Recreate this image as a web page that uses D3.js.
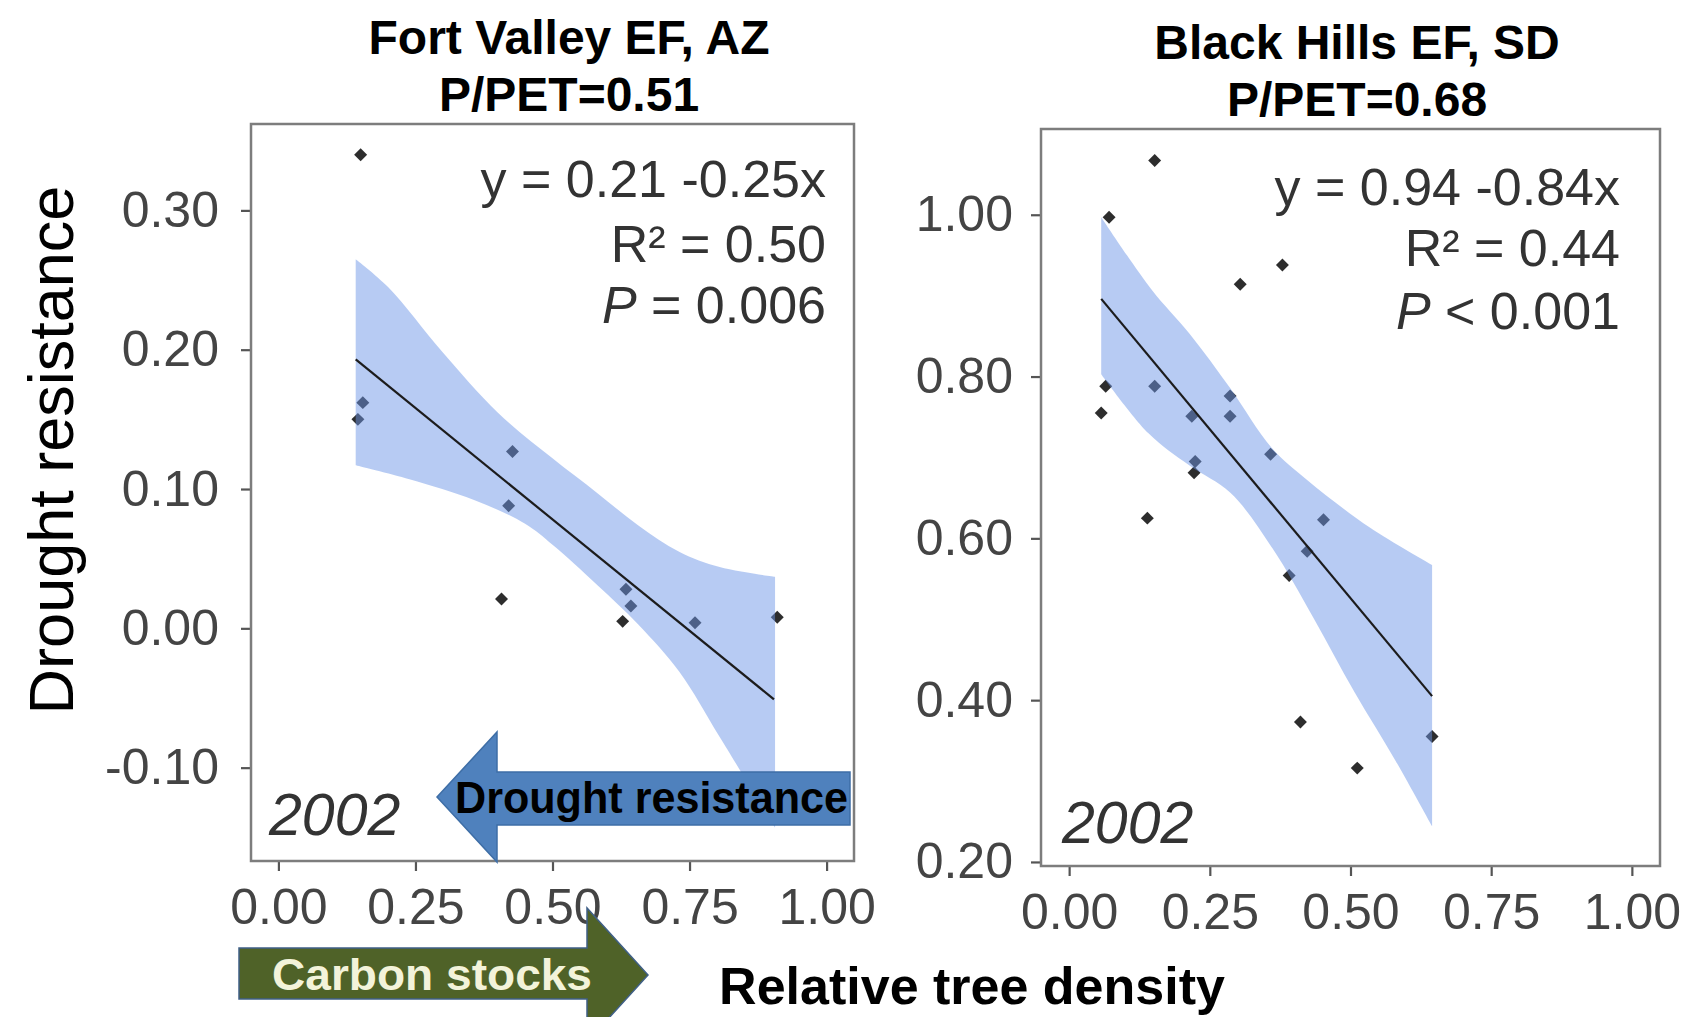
<!DOCTYPE html>
<html>
<head>
<meta charset="utf-8">
<script src="https://cdn.jsdelivr.net/npm/d3@7"></script>
<style>
  html, body { margin: 0; padding: 0; background: #fff; }
  svg { display: block; }
  text { font-family: "Liberation Sans", Arial, Helvetica, sans-serif; }
</style>
</head>
<body>
<svg id="chart" width="1690" height="1017"></svg>
<script>
// ---------------- data ----------------
const xTicks = [0, 0.25, 0.5, 0.75, 1.0];

// Fort Valley EF, AZ
const fvTitle = ["Fort Valley EF, AZ", "P/PET=0.51"];
const fvYTicks = [-0.10, 0.00, 0.10, 0.20, 0.30];
const fvX = [0.150, 0.154, 0.145, 0.427, 0.420, 0.407, 0.634, 0.643, 0.628, 0.760, 0.910];
const fvY = [0.340, 0.162, 0.150, 0.127, 0.088, 0.021, 0.028, 0.016, 0.005, 0.004, 0.008];
const fvFitX = [0.141, 0.904];
const fvFitY = [0.193, -0.051];
const fvBandHiX = [0.141, 0.200, 0.300, 0.400, 0.500, 0.582, 0.656, 0.731, 0.805, 0.906];
const fvBandHi  = [0.265, 0.245, 0.198, 0.155, 0.122, 0.097, 0.074, 0.055, 0.044, 0.037];
const fvBandLoX = [0.141, 0.239, 0.358, 0.450, 0.500, 0.582, 0.656, 0.731, 0.805, 0.906];
const fvBandLo  = [0.117, 0.107, 0.092, 0.075, 0.060, 0.031, 0.003, -0.031, -0.078, -0.143];
const fvStats = ["y = 0.21 -0.25x", "R² = 0.50", "= 0.006"];

// Black Hills EF, SD
const bhTitle = ["Black Hills EF, SD", "P/PET=0.68"];
const bhYTicks = [0.20, 0.40, 0.60, 0.80, 1.00];
const bhX = [0.152, 0.071, 0.379, 0.304, 0.065, 0.152, 0.057, 0.286, 0.286, 0.218,
             0.224, 0.222, 0.358, 0.139, 0.452, 0.423, 0.391, 0.411, 0.645, 0.512];
const bhY = [1.067, 0.997, 0.938, 0.914, 0.788, 0.788, 0.755, 0.776, 0.751, 0.751,
             0.695, 0.681, 0.704, 0.625, 0.623, 0.584, 0.554, 0.373, 0.355, 0.316];
const bhFitX = [0.057, 0.645];
const bhFitY = [0.896, 0.405];
const bhBandHiX = [0.057, 0.146, 0.214, 0.287, 0.361, 0.425, 0.535, 0.645];
const bhBandHi  = [0.997, 0.908, 0.853, 0.785, 0.711, 0.671, 0.613, 0.567];
const bhBandLoX = [0.057, 0.141, 0.214, 0.287, 0.361, 0.434, 0.507, 0.581, 0.645];
const bhBandLo  = [0.803, 0.730, 0.690, 0.656, 0.588, 0.502, 0.410, 0.324, 0.244];
const bhStats = ["y = 0.94 -0.84x", "R² = 0.44", "< 0.001"];

const yearLabel = "2002";
const yAxisTitle = "Drought resistance";
const xAxisTitle = "Relative tree density";
const arrowLeftLabel = "Drought resistance";
const arrowRightLabel = "Carbon stocks";

// ---------------- drawing ----------------
const svg = d3.select("#chart");
svg.append("rect").attr("width", 1690).attr("height", 1017).attr("fill", "#fff");

const fmt2 = d => d3.format(".2f")(d).replace("\u2212", "-");

function panel(cfg) {
  const g = svg.append("g");
  const x = d3.scaleLinear().domain(cfg.xDomain).range([cfg.left, cfg.right]);
  const y = d3.scaleLinear().domain(cfg.yDomain).range([cfg.bottom, cfg.top]);

  // points (under the ribbon, as in ggplot)
  const sym = d3.symbol().type(d3.symbolSquare).size(84);
  g.selectAll("path.pt").data(cfg.px.map((v, i) => [v, cfg.py[i]]))
    .join("path").attr("class", "pt")
    .attr("d", sym)
    .attr("transform", d => `translate(${x(d[0])},${y(d[1])}) rotate(45)`)
    .attr("fill", "#2d2d2d");

  // confidence ribbon
  const clipId = "clip" + cfg.id;
  svg.append("clipPath").attr("id", clipId).append("rect")
    .attr("x", cfg.left).attr("y", cfg.top)
    .attr("width", cfg.right - cfg.left).attr("height", cfg.bottom - cfg.top);
  const edge = d3.line().x(d => x(d[0])).y(d => y(d[1])).curve(d3.curveCatmullRom.alpha(0.5));
  const hi = cfg.hiX.map((v, i) => [v, cfg.hi[i]]);
  const lo = cfg.loX.map((v, i) => [v, cfg.lo[i]]).reverse();
  const loPath = edge(lo).replace(/^M/, "L");
  g.append("path")
    .attr("clip-path", `url(#${clipId})`)
    .attr("d", edge(hi) + loPath + "Z")
    .attr("fill", "#6c95e6").attr("fill-opacity", 0.49);

  // fitted line
  g.append("path")
    .attr("d", d3.line().x(d => x(d[0])).y(d => y(d[1]))(cfg.fx.map((v, i) => [v, cfg.fy[i]])))
    .attr("fill", "none").attr("stroke", "#1c1c1c").attr("stroke-width", 2.2);

  // axes
  const ax = g.append("g").attr("transform", `translate(0,${cfg.bottom})`)
    .call(d3.axisBottom(x).tickValues(xTicks).tickFormat(fmt2).tickSize(10).tickPadding(17));
  const ay = g.append("g").attr("transform", `translate(${cfg.left},0)`)
    .call(d3.axisLeft(y).tickValues(cfg.yTicks).tickFormat(fmt2).tickSize(10).tickPadding(cfg.yPad));
  [ax, ay].forEach(a => {
    a.select(".domain").remove();
    a.selectAll(".tick line").attr("stroke", "#555").attr("stroke-width", 2.2);
    a.selectAll(".tick text").attr("fill", "#444").attr("font-size", 50)
      .attr("font-family", '"Liberation Sans", Arial, sans-serif');
  });

  // border
  g.append("rect").attr("x", cfg.left).attr("y", cfg.top)
    .attr("width", cfg.right - cfg.left).attr("height", cfg.bottom - cfg.top)
    .attr("fill", "none").attr("stroke", "#7d7d7d").attr("stroke-width", 2.5);

  // title
  const t = g.append("text").attr("text-anchor", "middle").attr("font-weight", "bold")
    .attr("font-size", 48).attr("fill", "#000");
  t.append("tspan").attr("x", cfg.titleX).attr("y", cfg.titleY[0]).text(cfg.title[0]);
  t.append("tspan").attr("x", cfg.titleX).attr("y", cfg.titleY[1]).text(cfg.title[1]);

  // stats
  const st = g.append("g").attr("font-size", 52).attr("fill", "#333").attr("text-anchor", "end");
  st.append("text").attr("x", cfg.statX).attr("y", cfg.statY[0]).text(cfg.stats[0]);
  st.append("text").attr("x", cfg.statX).attr("y", cfg.statY[1]).text(cfg.stats[1]);
  const p = st.append("text").attr("x", cfg.statX).attr("y", cfg.statY[2]);
  p.append("tspan").attr("font-style", "italic").text("P");
  p.append("tspan").text(" " + cfg.stats[2]);

  // year
  g.append("text").attr("x", cfg.yearX).attr("y", cfg.yearY)
    .attr("font-size", 59).attr("font-style", "italic").attr("fill", "#333").text(yearLabel);
}

panel({
  id: "fv", left: 251, right: 854, top: 124, bottom: 861,
  xDomain: [-0.05, 1.05], yDomain: [-0.167, 0.362],
  px: fvX, py: fvY, fx: fvFitX, fy: fvFitY,
  hiX: fvBandHiX, hi: fvBandHi, loX: fvBandLoX, lo: fvBandLo,
  yTicks: fvYTicks, yPad: 22,
  title: fvTitle, titleX: 569, titleY: [54, 111],
  stats: fvStats, statX: 826, statY: [197, 262, 323],
  yearX: 269, yearY: 835
});

panel({
  id: "bh", left: 1041, right: 1660, top: 129, bottom: 866,
  xDomain: [-0.05, 1.05], yDomain: [0.195, 1.106],
  px: bhX, py: bhY, fx: bhFitX, fy: bhFitY,
  hiX: bhBandHiX, hi: bhBandHi, loX: bhBandLoX, lo: bhBandLo,
  yTicks: bhYTicks, yPad: 18,
  title: bhTitle, titleX: 1357, titleY: [59, 116],
  stats: bhStats, statX: 1620, statY: [205, 266, 329],
  yearX: 1062, yearY: 843
});

// y-axis title
svg.append("text")
  .attr("transform", "translate(73,450) rotate(-90)")
  .attr("text-anchor", "middle").attr("font-size", 63).attr("fill", "#000")
  .text(yAxisTitle);

// x-axis title
svg.append("text").attr("x", 972).attr("y", 1004)
  .attr("text-anchor", "middle").attr("font-size", 52).attr("font-weight", "bold")
  .attr("fill", "#000").text(xAxisTitle);

// "Drought resistance" arrow (points left)
const leftArrow = [[437, 797], [497, 732], [497, 772], [850, 772], [850, 825], [497, 825], [497, 862]];
svg.append("path").attr("d", d3.line()(leftArrow) + "Z")
  .attr("fill", "#4f81bd").attr("stroke", "#3e6ea6").attr("stroke-width", 1.5);
svg.append("text").attr("x", 455).attr("y", 813)
  .attr("font-size", 44).attr("font-weight", "bold").attr("fill", "#000")
  .attr("textLength", 393).attr("lengthAdjust", "spacingAndGlyphs")
  .text(arrowLeftLabel);

// "Carbon stocks" arrow (points right)
const rightArrow = [[239, 948], [587, 948], [587, 908], [648, 975], [587, 1042], [587, 999], [239, 999]];
svg.append("path").attr("d", d3.line()(rightArrow) + "Z")
  .attr("fill", "#4f6228").attr("stroke", "#3f5f86").attr("stroke-width", 1.5);
svg.append("text").attr("x", 272).attr("y", 990)
  .attr("font-size", 45).attr("font-weight", "bold").attr("fill", "#f3f3da")
  .attr("textLength", 320).attr("lengthAdjust", "spacingAndGlyphs")
  .text(arrowRightLabel);
</script>
</body>
</html>
